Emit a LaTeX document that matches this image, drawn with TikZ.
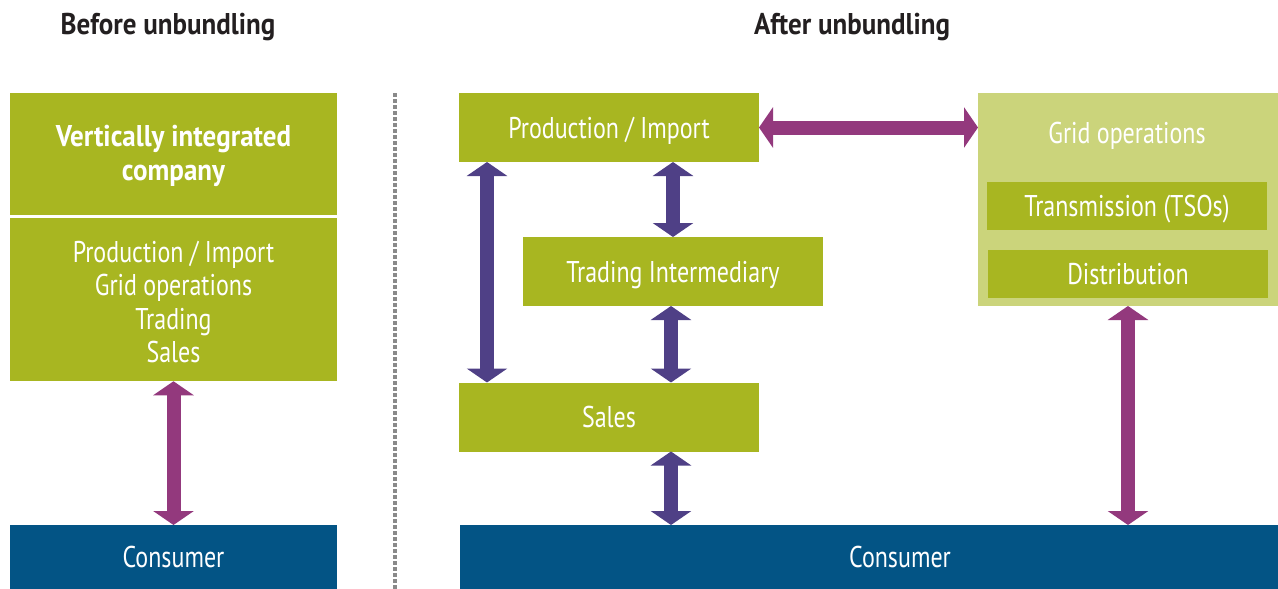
\documentclass[tikz,border=0pt]{standalone}
\usepackage{fontspec}
\setmainfont[FakeStretch=0.8, BoldFeatures={FakeStretch=0.9}]{PT Sans}
\usetikzlibrary{arrows.meta}
\definecolor{lime}{HTML}{A8B621}
\definecolor{limelight}{HTML}{CBD47B}
\definecolor{consblue}{HTML}{035485}
\definecolor{magarr}{HTML}{93397D}
\definecolor{purarr}{HTML}{4F4086}
\definecolor{divgray}{HTML}{8A8A8A}
\definecolor{titlecol}{HTML}{231F20}
\newcommand{\txtfont}{\fontsize{30}{33.5}\selectfont}
\newcommand{\toplift}{\rule{0pt}{26pt}}
\begin{document}
\begin{tikzpicture}[x=1pt,y=-1pt,
  box/.style={fill=lime, text=white, inner sep=0pt, outer sep=0pt, align=center, font=\txtfont},
  oneline/.style={text height=24pt, text depth=3pt},
  consbox/.style={fill=consblue, text=white, inner sep=0pt, outer sep=0pt, align=center, font=\txtfont, oneline},
  gridbox/.style={fill=limelight, inner sep=0pt, outer sep=0pt},
  title/.style={text=titlecol, font=\txtfont\bfseries},
  dblarr/.style={line width=14pt, {Triangle[length=14pt,width=40pt]}-{Triangle[length=14pt,width=40pt]}},
  magline/.style={dblarr, draw=magarr},
  purline/.style={dblarr, draw=purarr}]
\useasboundingbox (0,0) rectangle (1278,589);
% titles
\node[title] (tbefore) at (168,27.5) {Before unbundling};
\node[title] (tafter) at (852,27.5) {After unbundling};
% divider
\coordinate (dtop) at (395,93);
\coordinate (dbot) at (395,589);
\draw[divgray, line width=4pt, dash pattern=on 4pt off 2pt] (dtop) -- (dbot);
% left side
\node[box, minimum width=327pt, minimum height=121.5pt, font=\txtfont\bfseries] (lvi) at (173.5,153.75) {\toplift Vertically integrated\\company};
\node[box, minimum width=327pt, minimum height=163.5pt] (lfun) at (173.5,299.5) {\toplift Production / Import\\Grid operations\\Trading\\Sales};
\node[consbox, minimum width=327pt, minimum height=64pt] (lcons) at (173.5,557) {Consumer};
\draw[magline] (lfun.south) -- (lcons.north);
% right side
\node[box, oneline, minimum width=300pt, minimum height=69pt] (prod) at (609,127.5) {Production / Import};
\node[box, oneline, minimum width=300pt, minimum height=69pt] (trad) at (673,271.5) {Trading Intermediary};
\node[box, oneline, minimum width=300pt, minimum height=69pt] (sales) at (609,417) {Sales};
\node[consbox, minimum width=818pt, minimum height=64pt] (rcons) at (869,557) {};
\node[text=white, font=\txtfont, oneline] (rconslbl) at (900,557) {Consumer};
\node[gridbox, minimum width=300pt, minimum height=213pt] (grid) at (1128,199.5) {};
\node[text=white, font=\txtfont, oneline] (gridlbl) at (1127,133) {Grid operations};
\node[box, oneline, minimum width=280pt, minimum height=48pt] (trans) at (1127,206) {Transmission (TSOs)};
\node[box, oneline, minimum width=280pt, minimum height=48pt] (dist) at (1128,274) {Distribution};
% arrows
\coordinate (xa) at (487,0);
\coordinate (xb) at (673,0);
\coordinate (xc) at (671,0);
\draw[purline] (prod.south -| xa) -- (sales.north -| xa);
\draw[purline] (prod.south -| xb) -- (trad.north -| xb);
\draw[purline] (trad.south -| xc) -- (sales.north -| xc);
\draw[purline] (sales.south -| xc) -- (rcons.north -| xc);
\draw[magline] (prod.east) -- (prod.east -| grid.west);
\draw[magline] (grid.south -| dist) -- (rcons.north -| dist);
\end{tikzpicture}
\end{document}
